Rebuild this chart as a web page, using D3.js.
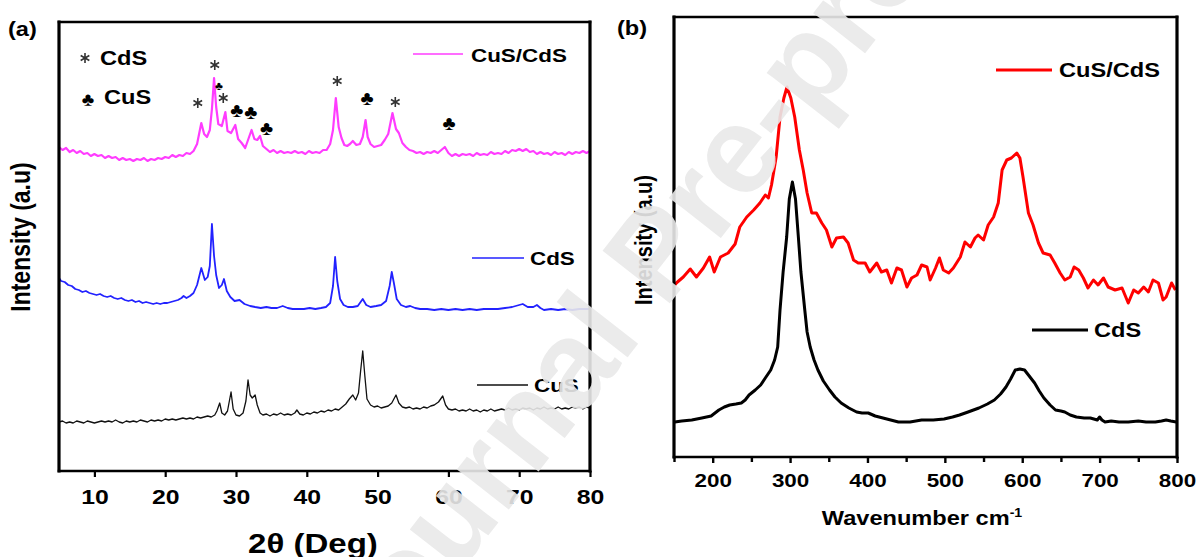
<!DOCTYPE html>
<html>
<head>
<meta charset="utf-8">
<script src="https://cdn.jsdelivr.net/npm/d3@7"></script>
<style>
  body { margin: 0; background: #fff; }
  svg { display: block; }
  text { font-family: "Liberation Sans", Arial, sans-serif; font-weight: bold; fill: #000; }
</style>
</head>
<body>
<div id="chart"></div>
<script>
// ---- data ----
// (a) XRD, 2theta (deg) vs intensity (a.u., stacked offsets kept)
var xrdTicks = [10, 20, 30, 40, 50, 60, 70, 80];

var xrdCuSCdS = [
  [5,324],[5.5,321],[6,323],[6.5,319],[7,321],[7.5,318],[8,320],[8.5,317],[9,318],[9.5,315],
  [10,317],[10.5,315],[11,316],[11.5,313],[12,315],[12.5,313],[13,314],[13.5,311],[14,313],[14.5,311],
  [15,312],[15.5,310],[16,312],[16.5,311],[17,313],[17.5,310],[18,312],[18.5,311],[19,313],[19.5,312],
  [20,314],[20.5,313],[21,316],[21.5,314],[22,316],[22.5,315],[23,318],[23.5,317],[24,320],[24.5,327],
  [25.1,348],[25.5,337],[25.9,334],[26.3,341],[26.6,362],[26.9,393],[27.2,364],[27.5,347],[28,345],[28.5,359],
  [28.8,340],[29.3,338],[29.9,346],[30.3,332],[30.8,328],[31.3,323],[31.8,333],[32.2,341],[32.6,332],[33,331],
  [33.4,335],[33.8,325],[34.3,322],[34.8,319],[35.3,321],[35.8,318],[36.3,320],[36.8,318],[37.3,319],[37.8,318],
  [38.3,320],[38.8,318],[39.3,319],[39.8,317],[40.3,320],[40.8,318],[41.3,319],[41.8,318],[42.3,321],[42.8,321],
  [43.3,327],[43.7,341],[44.1,373],[44.5,344],[44.9,333],[45.3,326],[45.7,325],[46.1,327],[46.5,330],[47,326],
  [47.5,327],[47.9,334],[48.3,351],[48.6,334],[49,327],[49.5,324],[50,325],[50.5,326],[51,331],[51.5,337],
  [52.1,358],[52.6,342],[53,338],[53.5,328],[54,324],[54.5,321],[55,320],[55.5,318],[56,319],[56.5,317],
  [57,319],[57.5,318],[58,320],[58.5,318],[59,321],[59.5,324],[60,318],[60.5,315],[61,317],[61.5,315],
  [62,317],[62.5,316],[63,317],[63.5,315],[64,318],[64.5,316],[65,317],[65.5,316],[66,319],[66.5,317],
  [67,318],[67.5,317],[68,320],[68.5,318],[69,321],[69.5,320],[70,322],[70.5,320],[71,322],[71.5,319],
  [72,320],[72.5,317],[73,319],[73.5,317],[74,318],[74.5,316],[75,319],[75.5,317],[76,318],[76.5,316],
  [77,319],[77.5,317],[78,319],[78.5,318],[79,320],[79.5,318],[80,320]
];

var xrdCdS = [
  [5,193],[5.3,190],[5.8,189],[6.3,186],[6.8,185],[7.3,182],[7.8,181],[8.3,179],[8.8,180],[9.3,178],
  [9.8,177],[10.3,176],[10.8,177],[11.3,175],[11.8,174],[12.3,175],[12.8,173],[13.3,172],[13.8,173],[14.3,171],
  [14.8,170],[15.3,171],[15.8,169],[16.3,170],[16.8,168],[17.3,169],[17.8,168],[18.3,167],[18.8,168],[19.3,167],
  [19.8,168],[20.3,168],[20.8,169],[21.3,170],[21.8,171],[22.3,173],[22.6,175],[23,173],[23.5,175],[24,178],
  [24.5,186],[25.1,203],[25.6,191],[26,194],[26.3,205],[26.6,247],[26.9,215],[27.2,196],[27.6,183],[28,186],
  [28.3,192],[28.7,180],[29.2,174],[29.8,170],[30.5,171],[31.2,167],[32,165],[32.7,164],[33.5,163],[34.3,164],
  [35,163],[35.8,163],[36.6,165],[37.3,163],[38,162],[38.8,162],[39.6,162],[40.4,163],[41.2,162],[42,163],
  [42.7,164],[43.3,168],[43.7,185],[44,214],[44.3,190],[44.7,172],[45.2,166],[45.8,164],[46.5,164],[47.2,165],
  [47.9,172],[48.4,166],[49,164],[49.8,165],[50.5,166],[51.2,170],[51.7,185],[52,199],[52.3,188],[52.7,172],
  [53.3,166],[54,164],[54.6,165],[55.3,163],[56,162],[57,162],[58,161],[59,162],[60,161],[61,162],
  [62,161],[63,162],[64,161],[65,162],[66,162],[67,162],[68,163],[69,164],[70,166],[70.5,167],
  [71.2,164],[72,164],[72.5,166],[73,163],[73.5,161],[74.5,162],[75.5,161],[76.5,162],[77.5,161],[78.5,162],
  [79.5,162],[80,162]
];

var xrdCuS = [
  [5,49],[5.5,50],[6,48],[6.5,49],[7,48],[7.5,50],[8,49],[8.5,48],[9,50],[9.5,49],
  [10,48],[10.5,49],[11,50],[11.5,49],[12,50],[12.5,49],[13,51],[13.5,49],[14,48],[14.5,50],
  [15,49],[15.5,50],[16,49],[16.5,51],[17,50],[17.5,49],[18,51],[18.5,50],[19,51],[19.5,50],
  [20,52],[20.5,51],[21,52],[21.5,51],[22,52],[22.5,53],[23,52],[23.5,53],[24,52],[24.5,54],
  [25,53],[25.5,54],[26,55],[26.5,54],[27,56],[27.3,60],[27.7,68],[28,58],[28.4,56],[28.8,60],
  [29.3,79],[29.6,62],[30,56],[30.5,55],[31,58],[31.4,70],[31.7,91],[32,76],[32.3,73],[32.7,76],
  [33,66],[33.4,58],[33.8,56],[34.3,57],[34.8,55],[35.3,57],[35.8,56],[36.3,58],[36.8,56],[37.3,57],
  [37.8,56],[38.3,58],[38.6,61],[39,57],[39.5,56],[40,58],[40.5,57],[41,59],[41.5,58],[42,60],
  [42.5,59],[43,61],[43.5,60],[44,62],[44.5,61],[45,64],[45.5,67],[46,72],[46.5,76],[46.9,71],
  [47.3,78],[47.6,100],[47.9,120],[48.2,95],[48.5,72],[49,66],[49.5,64],[50,65],[50.5,63],[51,64],
  [51.5,65],[52,68],[52.6,76],[53,68],[53.5,64],[54,63],[54.5,64],[55,62],[55.5,63],[56,62],
  [56.5,64],[57,63],[57.5,65],[58,66],[58.6,69],[59.2,75],[59.6,66],[60,62],[60.5,61],[61,62],
  [61.5,60],[62,61],[62.5,60],[63,62],[63.5,60],[64,61],[64.5,59],[65,61],[65.5,60],[66,62],
  [66.5,60],[67,61],[67.5,62],[68,61],[68.5,63],[69,61],[69.5,62],[70,61],[70.5,63],[71,62],
  [71.5,63],[72,61],[72.5,63],[73,62],[73.5,64],[74,62],[74.5,63],[75,62],[75.5,64],[76,62],
  [76.5,63],[77,62],[77.5,64],[78,63],[78.5,64],[79,62],[79.5,64],[80,63]
];

// phase markers above the CuS/CdS pattern
var cdsPeaks = [[24.6,368],[27.0,406],[28.2,373],[44.3,390],[52.5,369]];
var cusPeaks = [[30.1,361],[32.1,359],[34.3,343],[48.5,373],[60.1,348]];
var cusPeaksSmall = [[27.6,385]];

// (b) Raman, wavenumber (cm-1) vs intensity (a.u.)
var ramanTicks = [200, 300, 400, 500, 600, 700, 800];
var ramanMinorTicks = [150, 250, 350, 450, 550, 650, 750];

var ramanCuSCdS = [
  [151,172],[153,174],[162,180],[171,188],[179,180],[188,189],[196,200],[202,185],[210,200],[220,204],
  [229,213],[235,230],[244,240],[253,247],[261,254],[268,262],[272,259],[276,272],[282,300],[287,340],
  [292,359],[296,370],[301,359],[306,340],[312,307],[317,287],[322,264],[328,244],[334,244],[341,234],
  [347,227],[354,210],[360,219],[369,220],[375,214],[382,197],[388,194],[397,194],[403,185],[412,194],
  [418,185],[425,187],[431,174],[438,189],[444,187],[451,170],[457,179],[464,182],[470,192],[477,190],
  [481,177],[488,189],[493,199],[498,187],[505,184],[511,189],[520,200],[526,215],[533,210],[539,219],
  [543,222],[550,217],[556,232],[563,240],[569,254],[574,287],[580,297],[586,299],[593,304],[597,299],
  [601,280],[608,244],[614,232],[621,214],[627,204],[636,202],[642,194],[649,184],[655,177],[662,180],
  [667,190],[673,187],[679,179],[685,169],[692,177],[698,172],[705,179],[711,170],[720,167],[729,169],
  [737,154],[744,167],[750,164],[757,170],[763,165],[769,177],[776,174],[782,157],[786,160],[793,174],
  [798,167]
];

var ramanCdS = [
  [151,35],[160,36],[173,37],[186,39],[198,41],[208,47],[215,50],[222,52],[230,53],[237,54],
  [242,57],[247,62],[255,67],[262,72],[268,79],[275,87],[280,97],[284,110],[287,147],[291,185],
  [295.6,220],[299,258],[303,275],[307,258],[310.7,220],[314,185],[319,147],[322,125],[326,110],[331,97],
  [336,87],[343,76],[351,67],[358,60],[366,54],[376,49],[386,45],[393,44],[401,44],[410,41],
  [420,39],[430,37],[440,35],[455,35],[470,37],[485,37],[499,38],[510,40],[519,42],[530,45],
  [544,49],[555,53],[564,57],[572,63],[579,70],[585,78],[591,87],[597,88],[603,87],[609,81],
  [616,74],[622,66],[628,59],[636,52],[643,47],[650,46],[655,45],[662,42],[670,40],[680,39],
  [688,39],[697,37],[700,40],[703,37],[707,35],[715,36],[725,35],[737,35],[750,36],[760,35],
  [772,35],[780,36],[786,37],[792,36],[799,35]
];

// ---- drawing ----
var SX = 1.18; // the source figure is stretched sideways, text included

var svg = d3.select("#chart").append("svg")
    .attr("width", 1200)
    .attr("height", 557);

svg.append("rect").attr("width", 1200).attr("height", 557).attr("fill", "#fff");

var stretch = function(sel){
  sel.each(function(){
    var t = d3.select(this);
    var x = +t.attr("x") || 0;
    t.attr("transform", "translate(" + x + ",0) scale(" + SX + ",1) translate(" + (-x) + ",0)");
  });
};

var addText = function(g, x, y, str, size, anchor){
  var t = g.append("text")
      .attr("x", x)
      .attr("y", y)
      .attr("font-size", size)
      .attr("text-anchor", anchor || "start")
      .text(str);
  stretch(t);
  return t;
};

var frame = function(g, x0, x1, y0, y1){
  var f = g.append("g").attr("stroke", "#000").attr("stroke-linecap", "square");
  f.append("line").attr("x1", x0).attr("x2", x0).attr("y1", y0).attr("y2", y1).attr("stroke-width", 3.2);
  f.append("line").attr("x1", x1).attr("x2", x1).attr("y1", y0).attr("y2", y1).attr("stroke-width", 3.2);
  f.append("line").attr("x1", x0).attr("x2", x1).attr("y1", y0).attr("y2", y0).attr("stroke-width", 2.6);
  f.append("line").attr("x1", x0).attr("x2", x1).attr("y1", y1).attr("y2", y1).attr("stroke-width", 2.6);
};

// ===== panel (a) =====
var gA = svg.append("g");
var xA = d3.scaleLinear().domain([5, 80]).range([59, 590]);
var yA = d3.scaleLinear().domain([0, 449]).range([471, 22]);
var lineA = d3.line().x(function(d){ return xA(d[0]); }).y(function(d){ return yA(d[1]); });

var xrdSeries = [
  {data: xrdCuSCdS, color: "#ff3cff", width: 2.2},
  {data: xrdCdS, color: "#2222ff", width: 1.8},
  {data: xrdCuS, color: "#111", width: 1.3}
];
xrdSeries.forEach(function(s){
  gA.append("path")
    .datum(s.data)
    .attr("d", lineA)
    .attr("fill", "none")
    .attr("stroke", s.color)
    .attr("stroke-width", s.width)
    .attr("stroke-linejoin", "round");
});

var axA = gA.append("g")
    .attr("transform", "translate(0,471)")
    .call(d3.axisBottom(xA).tickValues(xrdTicks).tickSize(6).tickPadding(12).tickFormat(d3.format("d")));
axA.select(".domain").remove();
axA.selectAll(".tick line").attr("stroke", "#000").attr("stroke-width", 2.2);
axA.selectAll(".tick text")
    .attr("font-size", 21)
    .attr("font-family", "Liberation Sans, Arial, sans-serif")
    .attr("font-weight", "bold")
    .attr("fill", "#000");
stretch(axA.selectAll(".tick text"));

frame(gA, 59, 590, 22, 471);

// phase markers
var star = d3.symbol().type(d3.symbolAsterisk).size(70);
gA.selectAll(".cds-mark")
  .data(cdsPeaks)
  .enter().append("path")
    .attr("class", "cds-mark")
    .attr("d", star)
    .attr("transform", function(d){ return "translate(" + xA(d[0]) + "," + yA(d[1]) + ")"; })
    .attr("fill", "none")
    .attr("stroke", "#333")
    .attr("stroke-width", 1.6);

var clubText = function(g, data, size){
  g.selectAll(null)
    .data(data)
    .enter().append("text")
      .attr("x", function(d){ return xA(d[0]); })
      .attr("y", function(d){ return yA(d[1]); })
      .attr("dy", "0.36em")
      .attr("text-anchor", "middle")
      .attr("font-family", "DejaVu Sans, sans-serif")
      .attr("font-size", size)
      .text("\u2663");
};
clubText(gA, cusPeaks, 20);
clubText(gA, cusPeaksSmall, 12);

// marker key
gA.append("path").attr("d", star).attr("transform", "translate(85,58)")
  .attr("fill", "none").attr("stroke", "#333").attr("stroke-width", 1.6);
addText(gA, 100, 65, "CdS", 20);
gA.append("text").attr("x", 88).attr("y", 99).attr("dy", "0.36em").attr("text-anchor", "middle")
  .attr("font-family", "DejaVu Sans, sans-serif").attr("font-size", 19).text("\u2663");
addText(gA, 104, 104, "CuS", 20);

// series legends
var legA = [
  {x0: 413, x1: 463, y: 54, color: "#ff3cff", label: "CuS/CdS", tx: 471, ty: 62},
  {x0: 472, x1: 524, y: 258, color: "#2222ff", label: "CdS", tx: 530, ty: 265},
  {x0: 477, x1: 528, y: 385, color: "#111", label: "CuS", tx: 534, ty: 392}
];
legA.forEach(function(l){
  gA.append("line").attr("x1", l.x0).attr("x2", l.x1).attr("y1", l.y).attr("y2", l.y)
    .attr("stroke", l.color).attr("stroke-width", 1.3);
  addText(gA, l.tx, l.ty, l.label, 19);
});

addText(gA, 8, 36, "(a)", 20);
addText(gA, 313, 553, "2\u03b8 (Deg)", 28, "middle");
gA.append("text")
  .attr("transform", "translate(30,237) scale(" + SX + ",1) rotate(-90)")
  .attr("text-anchor", "middle")
  .attr("font-size", 23)
  .text("Intensity (a.u)");

// ===== panel (b) =====
var gB = svg.append("g");
var xB = d3.scaleLinear().domain([150, 800]).range([674, 1177]);
var yB = d3.scaleLinear().domain([0, 440]).range([457, 17]);
var lineB = d3.line().x(function(d){ return xB(d[0]); }).y(function(d){ return yB(d[1]); });

var ramanSeries = [
  {data: ramanCuSCdS, color: "#ff0000"},
  {data: ramanCdS, color: "#000"}
];
ramanSeries.forEach(function(s){
  gB.append("path")
    .datum(s.data)
    .attr("d", lineB)
    .attr("fill", "none")
    .attr("stroke", s.color)
    .attr("stroke-width", 3)
    .attr("stroke-linejoin", "round");
});

var axB = gB.append("g")
    .attr("transform", "translate(0,457)")
    .call(d3.axisBottom(xB).tickValues(ramanTicks).tickSize(6).tickPadding(10.5).tickFormat(d3.format("d")));
axB.select(".domain").remove();
axB.selectAll(".tick line").attr("stroke", "#000").attr("stroke-width", 2.4);
axB.selectAll(".tick text")
    .attr("font-size", 19)
    .attr("font-family", "Liberation Sans, Arial, sans-serif")
    .attr("font-weight", "bold")
    .attr("fill", "#000");
stretch(axB.selectAll(".tick text"));

var axBminor = gB.append("g")
    .attr("transform", "translate(0,457)")
    .call(d3.axisBottom(xB).tickValues(ramanMinorTicks).tickSize(5).tickFormat(""));
axBminor.select(".domain").remove();
axBminor.selectAll(".tick line").attr("stroke", "#000").attr("stroke-width", 2.4);

frame(gB, 674, 1177, 17, 457);

var legB = [
  {x0: 996, x1: 1052, y: 70, color: "#ff0000", label: "CuS/CdS", tx: 1059, ty: 77},
  {x0: 1032, x1: 1088, y: 330, color: "#000", label: "CdS", tx: 1094, ty: 337}
];
legB.forEach(function(l){
  gB.append("line").attr("x1", l.x0).attr("x2", l.x1).attr("y1", l.y).attr("y2", l.y)
    .attr("stroke", l.color).attr("stroke-width", 3);
  addText(gB, l.tx, l.ty, l.label, 20);
});

addText(gB, 617, 35, "(b)", 20);

var xtB = gB.append("text")
    .attr("x", 922)
    .attr("y", 525)
    .attr("font-size", 20)
    .attr("text-anchor", "middle");
xtB.append("tspan").text("Wavenumber cm");
xtB.append("tspan").attr("dy", -8).attr("font-size", 12).text("-1");
stretch(xtB);

gB.append("text")
  .attr("transform", "translate(652,240) scale(" + SX + ",1) rotate(-90)")
  .attr("text-anchor", "middle")
  .attr("font-size", 20)
  .text("Intensity (a.u)");

// ===== watermark laid over both panels =====
svg.append("text")
  .attr("transform", "translate(688,280) rotate(-52)")
  .attr("text-anchor", "middle")
  .attr("font-size", 124)
  .attr("font-weight", "normal")
  .style("fill", "#e9e9e9")
  .attr("opacity", 0.9)
  .text("Journal Pre-proof");
</script>
</body>
</html>
